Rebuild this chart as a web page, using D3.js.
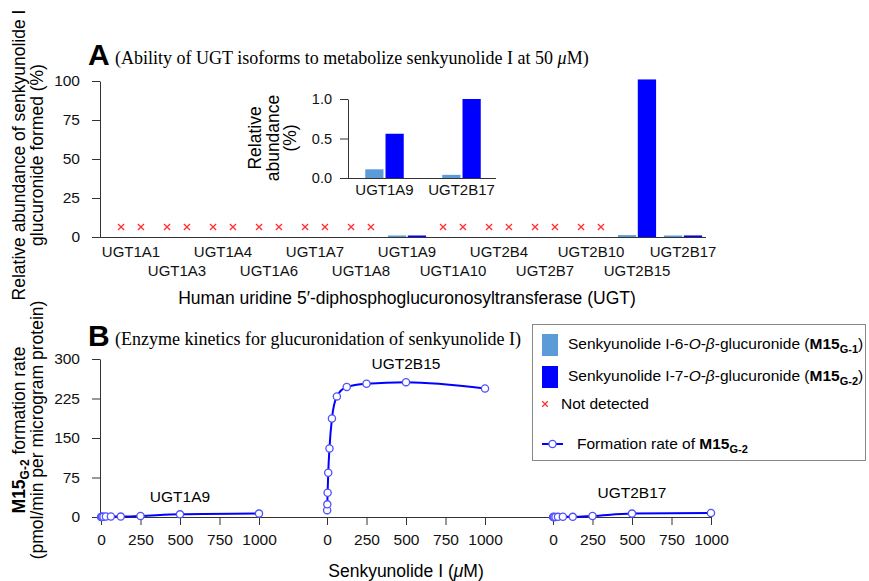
<!DOCTYPE html>
<html>
<head>
<meta charset="utf-8">
<script src="https://cdn.jsdelivr.net/npm/d3@7"></script>
<style>
  body { margin: 0; background: #fff; }
  svg { display: block; font-family: Arial, "Liberation Sans", sans-serif; }
  .serif { font-family: "Times New Roman", "Liberation Serif", serif; }
  .axis text { font-family: Arial, "Liberation Sans", sans-serif; fill: #111; }
  .axis path, .axis line { stroke: #333; }
</style>
</head>
<body>
<svg id="chart" width="869" height="581"></svg>
<script>
// Panel A: relative abundance at 50 uM (null = not detected)
const isoforms = ["UGT1A1", "UGT1A3", "UGT1A4", "UGT1A6", "UGT1A7", "UGT1A8", "UGT1A9",
  "UGT1A10", "UGT2B4", "UGT2B7", "UGT2B10", "UGT2B15", "UGT2B17"];
const m15g1 = [null, null, null, null, null, null, 0.1, null, null, null, null, 1.2, 0.05];
const m15g2 = [null, null, null, null, null, null, 0.55, null, null, null, null, 101, 1.0];
const yTicksA = [0, 25, 50, 75, 100];

// Inset
const insetIsoforms = ["UGT1A9", "UGT2B17"];
const insetG1 = [0.11, 0.04];
const insetG2 = [0.56, 1.0];
const insetTicks = [0, 0.5, 1.0];

// Panel B: formation rate of M15 G-2 vs concentration
const concentrations = [0.98, 1.95, 3.9, 7.8, 15.6, 31.25, 62.5, 125, 250, 500, 1000];
const rate1A9 = [0.1, 0.2, 0.3, 0.5, 0.7, 0.9, 1.0, 0.8, 2.0, 5.0, 6.5];
const rate2B15 = [13, 24, 46, 84, 130, 187, 229, 247, 253, 256, 244];
const rate2B17 = [0, 0, 0.1, 0.1, 0.2, 0.3, 0.5, 0.3, 2.0, 6.5, 7.6];
const kineticsNames = ["UGT1A9", "UGT2B15", "UGT2B17"];
const xTicksB = [0, 250, 500, 750, 1000];
const yTicksB = [0, 75, 150, 225, 300];

const lightBlue = "#5b9bd8";
const darkBlue = "#0000ff";
const red = "#ff3030";

const svg = d3.select("#chart");

// ---------- Panel A ----------
const yA = d3.scaleLinear().domain([0, 100]).range([237, 81]);
const x0 = d3.scaleBand().domain(isoforms).range([108, 706]).paddingInner(0.17).paddingOuter(0.085);
const x1 = d3.scaleBand().domain(["g1", "g2"]).range([0, x0.bandwidth()]).paddingInner(0.08);

svg.append("g")
    .attr("class", "axis")
    .attr("transform", "translate(100,0)")
    .call(d3.axisLeft(yA).tickValues(yTicksA).tickSize(8).tickPadding(12).tickSizeOuter(0))
    .selectAll("text").style("font-size", "15.5px");

const xAxisA = svg.append("g")
    .attr("class", "axis")
    .attr("transform", `translate(0,${yA(0)})`)
    .call(d3.axisBottom(x0).tickSize(0).tickPadding(9));
xAxisA.select(".domain").remove();
xAxisA.selectAll("text")
    .style("font-size", "15px")
    .attr("dy", (d, i) => i % 2 === 0 ? "0.71em" : "2.0em");
svg.append("line")
    .attr("x1", 100).attr("x2", x0.range()[1])
    .attr("y1", yA(0) + 0.5).attr("y2", yA(0) + 0.5)
    .attr("stroke", "#333");

const rowsA = isoforms.map((name, i) => ({ name, g1: m15g1[i], g2: m15g2[i] }));
const groupsA = svg.append("g").selectAll("g")
    .data(rowsA).join("g")
    .attr("transform", d => `translate(${x0(d.name)},0)`);

function barsIn(sel, yScale, minH) {
  sel.each(function (d) {
    const g = d3.select(this);
    [["g1", lightBlue], ["g2", darkBlue]].forEach(([k, c]) => {
      if (d[k] === null) {
        g.append("path")
          .attr("d", d3.symbol(d3.symbolX, 26)())
          .attr("transform", `translate(${x1(k) + x1.bandwidth() / 2},${yScale(0) - 10})`)
          .attr("stroke", red).attr("stroke-width", 1.3).attr("fill", "none");
      } else {
        const h = Math.max(minH, yScale(0) - yScale(d[k]));
        g.append("rect")
          .attr("x", x1(k)).attr("width", x1.bandwidth())
          .attr("y", yScale(0) - h).attr("height", h)
          .attr("fill", c);
      }
    });
  });
}
barsIn(groupsA, yA, 1.5);

svg.append("text").attr("x", 88).attr("y", 65)
    .style("font-size", "30px").style("font-weight", "bold").text("A");
const titleA = svg.append("text").attr("class", "serif").attr("x", 115).attr("y", 64)
    .style("font-size", "18px");
titleA.append("tspan").text("(Ability of UGT isoforms to metabolize senkyunolide I at 50 ");
titleA.append("tspan").style("font-style", "italic").text("μ");
titleA.append("tspan").text("M)");

const yTitleA = svg.append("text")
    .attr("transform", "translate(0,155) rotate(-90)")
    .attr("text-anchor", "middle").style("font-size", "17.5px");
yTitleA.append("tspan").attr("x", 0).attr("y", 25).text("Relative abundance of senkyunolide I");
yTitleA.append("tspan").attr("x", 0).attr("y", 43).text("glucuronide formed (%)");

svg.append("text").attr("x", 407).attr("y", 304)
    .attr("text-anchor", "middle").style("font-size", "17.5px")
    .text("Human uridine 5′-diphosphoglucuronosyltransferase (UGT)");

// ---------- Inset ----------
const yI = d3.scaleLinear().domain([0, 1]).range([178, 99]);
const xI0 = d3.scaleBand().domain(insetIsoforms).range([346, 500]).paddingInner(0.5).paddingOuter(0.25);
const xI1 = d3.scaleBand().domain(["g1", "g2"]).range([0, xI0.bandwidth()]).paddingInner(0.1);

svg.append("g")
    .attr("class", "axis")
    .attr("transform", "translate(348,0)")
    .call(d3.axisLeft(yI).tickValues(insetTicks).tickFormat(d3.format(".1f")).tickSize(8).tickPadding(8).tickSizeOuter(0))
    .selectAll("text").style("font-size", "14.5px");
const xAxisI = svg.append("g")
    .attr("class", "axis")
    .attr("transform", `translate(0,${yI(0)})`)
    .call(d3.axisBottom(xI0).tickSize(0).tickPadding(6));
xAxisI.select(".domain").remove();
xAxisI.selectAll("text").style("font-size", "15px");
svg.append("line")
    .attr("x1", 348).attr("x2", 496)
    .attr("y1", yI(0) + 0.5).attr("y2", yI(0) + 0.5)
    .attr("stroke", "#333");

const rowsI = insetIsoforms.map((name, i) => ({ name, g1: insetG1[i], g2: insetG2[i] }));
svg.append("g").selectAll("g")
    .data(rowsI).join("g")
    .attr("transform", d => `translate(${xI0(d.name)},0)`)
    .selectAll("rect")
    .data(d => [["g1", d.g1, lightBlue], ["g2", d.g2, darkBlue]])
    .join("rect")
    .attr("x", d => xI1(d[0])).attr("width", xI1.bandwidth())
    .attr("y", d => yI(d[1])).attr("height", d => yI(0) - yI(d[1]))
    .attr("fill", d => d[2]);

const yTitleI = svg.append("text")
    .attr("transform", "translate(0,138) rotate(-90)")
    .attr("text-anchor", "middle").style("font-size", "17.5px");
yTitleI.append("tspan").attr("x", 0).attr("y", 261).text("Relative");
yTitleI.append("tspan").attr("x", 0).attr("y", 279).text("abundance");
yTitleI.append("tspan").attr("x", 0).attr("y", 296).text("(%)");

// ---------- Panel B ----------
const yB = d3.scaleLinear().domain([0, 300]).range([517, 359]);
const panelStarts = [101, 327, 553];
const panelWidth = 158;
const seriesB = [rate1A9, rate2B15, rate2B17];

svg.append("g")
    .attr("class", "axis")
    .attr("transform", "translate(100,0)")
    .call(d3.axisLeft(yB).tickValues(yTicksB).tickSize(8).tickPadding(12).tickSizeOuter(0))
    .selectAll("text").style("font-size", "15.5px");

svg.append("line")
    .attr("x1", 100).attr("x2", panelStarts[2] + panelWidth)
    .attr("y1", yB(0) + 0.5).attr("y2", yB(0) + 0.5)
    .attr("stroke", "#333");

const labelYs = [497, 364, 493];
panelStarts.forEach((start, p) => {
  const xB = d3.scaleLinear().domain([0, 1000]).range([start, start + panelWidth]);
  const ax = svg.append("g")
      .attr("class", "axis")
      .attr("transform", `translate(0,${yB(0)})`)
      .call(d3.axisBottom(xB).tickValues(xTicksB).tickFormat(d3.format("d")).tickSize(8).tickPadding(9).tickSizeOuter(0));
  ax.select(".domain").remove();
  ax.selectAll("text").style("font-size", "15.5px");

  const pts = concentrations.map((c, i) => ({ c, v: seriesB[p][i] }));
  svg.append("path")
      .datum(pts)
      .attr("fill", "none")
      .attr("stroke", darkBlue)
      .attr("stroke-width", 2)
      .attr("d", d3.line().x(d => xB(d.c)).y(d => yB(d.v)).curve(d3.curveMonotoneX));
  svg.append("g").selectAll("circle")
      .data(pts).join("circle")
      .attr("cx", d => xB(d.c)).attr("cy", d => yB(d.v)).attr("r", 3.6)
      .attr("fill", "#fff").attr("stroke", "#5050ff").attr("stroke-width", 1.3);

  svg.append("text")
      .attr("x", xB(500)).attr("y", labelYs[p]).attr("dy", "0.35em")
      .attr("text-anchor", "middle").style("font-size", "15.5px")
      .text(kineticsNames[p]);
});

svg.append("text").attr("x", 88).attr("y", 346)
    .style("font-size", "30px").style("font-weight", "bold").text("B");
svg.append("text").attr("class", "serif").attr("x", 115).attr("y", 345)
    .style("font-size", "18px")
    .text("(Enzyme kinetics for glucuronidation of senkyunolide I)");

const yTitleB = svg.append("text")
    .attr("transform", "translate(0,430) rotate(-90)")
    .attr("text-anchor", "middle").style("font-size", "17.5px");
const l1 = yTitleB.append("tspan").attr("x", 0).attr("y", 25);
l1.append("tspan").style("font-weight", "bold").text("M15");
l1.append("tspan").attr("dy", 4).style("font-size", "12px").style("font-weight", "bold").text("G-2");
l1.append("tspan").attr("dy", -4).text(" formation rate");
yTitleB.append("tspan").attr("x", 0).attr("y", 43).text("(pmol/min per microgram protein)");

const xTitleB = svg.append("text").attr("x", 406).attr("y", 577)
    .attr("text-anchor", "middle").style("font-size", "17.5px");
xTitleB.append("tspan").text("Senkyunolide I (");
xTitleB.append("tspan").style("font-style", "italic").text("μ");
xTitleB.append("tspan").text("M)");

// ---------- Legend ----------
const legend = svg.append("g");
legend.append("rect")
    .attr("x", 532.5).attr("y", 324.5).attr("width", 333).attr("height", 136)
    .attr("fill", "#fff").attr("stroke", "#888").attr("stroke-width", 1);

function metText(sel, prefix, sub) {
  sel.append("tspan").text(prefix);
  sel.append("tspan").style("font-weight", "bold").text("M15");
  sel.append("tspan").attr("dy", 4).style("font-size", "11px").style("font-weight", "bold").text(sub);
}
[[lightBlue, "6", "G-1", 334], [darkBlue, "7", "G-2", 366]].forEach(([c, pos, sub, y]) => {
  legend.append("rect").attr("x", 542).attr("y", y).attr("width", 16).attr("height", 22).attr("fill", c);
  const t = legend.append("text").attr("x", 568).attr("y", y + 15).style("font-size", "15.5px");
  t.append("tspan").text(`Senkyunolide I-${pos}-`);
  t.append("tspan").style("font-style", "italic").text("O");
  t.append("tspan").text("-");
  t.append("tspan").style("font-style", "italic").text("β");
  t.append("tspan").text("-glucuronide (");
  t.append("tspan").style("font-weight", "bold").text("M15");
  t.append("tspan").attr("dy", 4).style("font-size", "11px").style("font-weight", "bold").text(sub);
  t.append("tspan").attr("dy", -4).text(")");
});
legend.append("path")
    .attr("d", d3.symbol(d3.symbolX, 22)())
    .attr("transform", "translate(545,404)")
    .attr("stroke", red).attr("stroke-width", 1.3).attr("fill", "none");
legend.append("text").attr("x", 561).attr("y", 409).style("font-size", "15.5px").text("Not detected");
legend.append("line").attr("x1", 542).attr("x2", 563).attr("y1", 444).attr("y2", 444)
    .attr("stroke", darkBlue).attr("stroke-width", 2);
legend.append("circle").attr("cx", 552.5).attr("cy", 444).attr("r", 3.6)
    .attr("fill", "#fff").attr("stroke", "#5050ff").attr("stroke-width", 1.3);
metText(legend.append("text").attr("x", 577).attr("y", 449).style("font-size", "15.5px"),
    "Formation rate of ", "G-2");
</script>
</body>
</html>
